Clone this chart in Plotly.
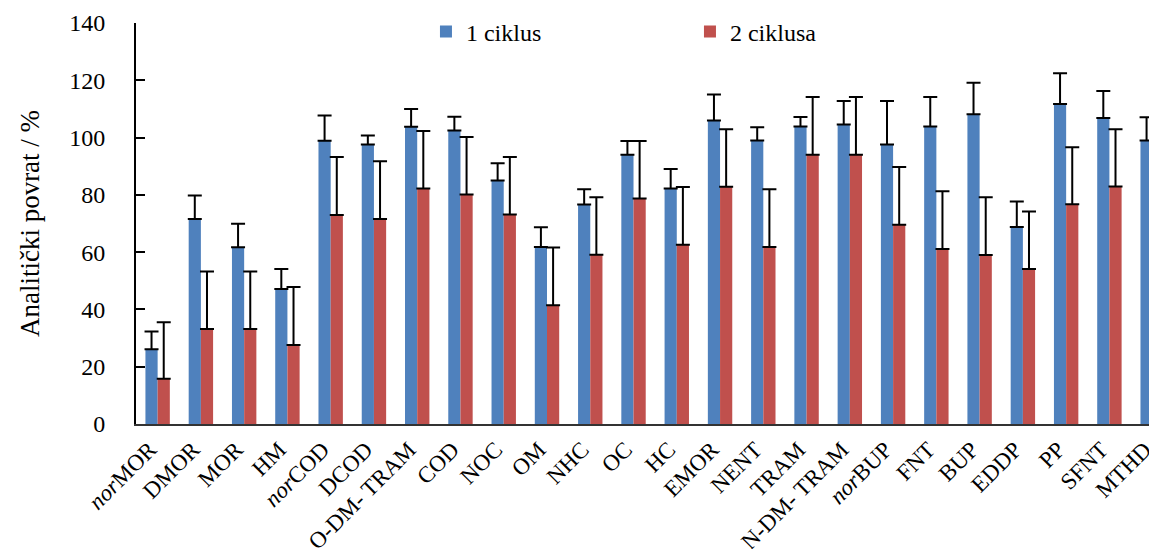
import plotly.graph_objects as go

categories = ["<i>nor</i>MOR", "DMOR", "MOR", "HM", "<i>nor</i>COD", "DCOD", "O-DM- TRAM", "COD",
              "NOC", "OM", "NHC", "OC", "HC", "EMOR", "NENT", "TRAM", "N-DM- TRAM",
              "<i>nor</i>BUP", "FNT", "BUP", "EDDP", "PP", "SFNT", "MTHD"]

ciklus1 = [26.1, 71.6, 61.7, 47.1, 98.9, 97.6, 103.8, 102.5, 85.0, 61.8, 76.6, 94.0,
           82.2, 106.0, 99.0, 103.9, 104.6, 97.6, 103.9, 108.1, 68.8, 111.7, 106.8, 99.0]
ciklus1_err = [6.2, 8.2, 8.2, 7.0, 8.8, 3.1, 6.2, 4.8, 6.0, 6.9, 5.4, 4.8,
               6.8, 9.0, 4.6, 3.3, 8.2, 15.2, 10.3, 11.0, 8.9, 10.8, 9.5, 8.1]

ciklus2 = [15.8, 33.2, 33.2, 27.6, 73.0, 71.6, 82.2, 80.1, 73.1, 41.5, 59.1, 78.7,
           62.6, 82.8, 61.8, 94.0, 94.0, 69.6, 61.1, 59.0, 54.1, 76.7, 82.9, 82.2]
ciklus2_err = [19.7, 20.0, 20.0, 20.2, 20.2, 20.1, 20.1, 20.1, 20.1, 20.1, 20.1, 20.1,
               20.1, 20.1, 20.2, 20.2, 20.2, 20.1, 20.2, 20.2, 20.1, 19.9, 20.0, 20.2]

series_names = ["1 ciklus", "2 ciklusa"]
colors = ["#4F81BD", "#C0504D"]
font_family = "Liberation Serif"

fig = go.Figure()
for name, vals, errs, col in [(series_names[0], ciklus1, ciklus1_err, colors[0]),
                              (series_names[1], ciklus2, ciklus2_err, colors[1])]:
    fig.add_trace(go.Bar(
        x=list(range(len(categories))), y=vals, name=name,
        marker=dict(color=col, line=dict(width=0)),
        error_y=dict(type="data", array=errs, arrayminus=[0] * len(errs), symmetric=False,
                     color="black", thickness=2, width=7),
    ))

fig.update_layout(
    width=1149, height=541,
    margin=dict(l=128, r=0, t=15, b=125, autoexpand=False),
    paper_bgcolor="white", plot_bgcolor="white",
    barmode="group", bargap=0.436, bargroupgap=0,
    font=dict(family=font_family, size=23, color="black"),
    showlegend=True,
    legend=dict(orientation="h", x=0.284, y=0.978, xanchor="left", yanchor="middle",
                entrywidth=219, entrywidthmode="pixels",
                font=dict(family=font_family, size=24, color="black"),
                bgcolor="rgba(0,0,0,0)"),
    xaxis=dict(
        tickmode="array", tickvals=list(range(len(categories))), ticktext=categories,
        range=[-0.5, 23.1], tickangle=-45, ticks="", showgrid=False, automargin=False,
        showline=True, linecolor="#333333", linewidth=2,
        tickfont=dict(family=font_family, size=23, color="black"),
        ticklabelstandoff=1, ticklabelshift=-8, ticklabeloverflow="allow",
    ),
    yaxis=dict(
        range=[0, 140], tickvals=[0, 20, 40, 60, 80, 100, 120, 140], automargin=False,
        ticks="inside", ticklen=9, tickwidth=2, tickcolor="black",
        showgrid=False, zeroline=False, showline=True, linecolor="black", linewidth=2,
        tickfont=dict(family=font_family, size=24, color="black"),
        ticklabelstandoff=24,
        title=dict(text="Analitički povrat / %", standoff=22,
                   font=dict(family=font_family, size=27, color="black")),
    ),
)

fig.write_html("out.html")
